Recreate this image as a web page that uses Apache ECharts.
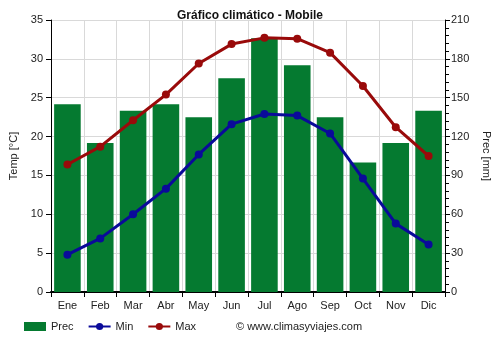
<!DOCTYPE html>
<html>
<head>
<meta charset="utf-8">
<style>
  html, body { margin: 0; padding: 0; background: #fff; }
  #chart { width: 500px; height: 350px; }
</style>
<script src="https://cdn.jsdelivr.net/npm/echarts@6/dist/echarts.min.js"></script>
</head>
<body>
<div id="chart"></div>
<script>
// Monthly climate data for Mobile
const months = ['Ene', 'Feb', 'Mar', 'Abr', 'May', 'Jun', 'Jul', 'Ago', 'Sep', 'Oct', 'Nov', 'Dic'];
const precMm = [145, 115, 140, 145, 135, 165, 196, 175, 135, 100, 115, 140];
const tempMin = [4.8, 6.9, 10.0, 13.3, 17.7, 21.6, 22.9, 22.7, 20.4, 14.6, 8.8, 6.1];
const tempMax = [16.4, 18.7, 22.1, 25.4, 29.4, 31.9, 32.7, 32.6, 30.8, 26.5, 21.2, 17.5];

const FONT = 'Liberation Sans, Arial, sans-serif';
const chart = echarts.init(document.getElementById('chart'), null, { renderer: 'canvas' });

chart.setOption({
  animation: false,
  backgroundColor: '#ffffff',
  textStyle: { fontFamily: FONT },
  title: {
    text: 'Gráfico climático - Mobile',
    left: 'center',
    top: 10,
    padding: 0,
    textStyle: { fontFamily: FONT, fontSize: 12, fontWeight: 'bold', color: '#111' }
  },
  grid: { left: 49, right: 55, top: 20, bottom: 58, containLabel: false },
  legend: {
    left: 24,
    top: 321,
    padding: 0,
    itemGap: 14,
    itemWidth: 22,
    itemHeight: 9,
    textStyle: { fontFamily: FONT, fontSize: 11, color: '#222' },
    data: [
      { name: 'Prec', icon: 'rect' },
      { name: 'Min' },
      { name: 'Max' }
    ]
  },
  graphic: [{
    type: 'text',
    left: 236,
    top: 321,
    style: { text: '© www.climasyviajes.com', font: '11px ' + FONT, fill: '#222' }
  }],
  xAxis: {
    type: 'category',
    data: months,
    boundaryGap: true,
    axisLine: { lineStyle: { color: '#000', width: 2 } },
    axisTick: { show: true, alignWithLabel: false, length: 5, lineStyle: { color: '#000' } },
    axisLabel: { fontSize: 11, color: '#222', margin: 8, fontFamily: FONT },
    splitLine: { show: true, lineStyle: { color: '#d9d9d9', width: 1 } }
  },
  yAxis: [{
    type: 'value',
    min: 0, max: 35, interval: 5,
    name: 'Temp [°C]',
    nameLocation: 'middle',
    nameGap: 32,
    nameRotate: 90,
    nameTextStyle: { fontSize: 11, color: '#222', fontFamily: FONT },
    axisLine: { show: true, lineStyle: { color: '#000' } },
    axisTick: { show: true, length: 5, lineStyle: { color: '#000' } },
    axisLabel: { fontSize: 11, color: '#222', margin: 8, fontFamily: FONT },
    splitLine: { show: true, lineStyle: { color: '#d9d9d9', width: 1 } }
  }, {
    type: 'value',
    min: 0, max: 210, interval: 30,
    name: 'Prec [mm]',
    nameLocation: 'middle',
    nameGap: 36,
    nameRotate: -90,
    nameTextStyle: { fontSize: 11, color: '#222', fontFamily: FONT },
    axisLine: { show: true, lineStyle: { color: '#000' } },
    axisTick: { show: true, length: 5, lineStyle: { color: '#000' } },
    minorTick: { show: true, splitNumber: 5, length: 4, lineStyle: { color: '#000' } },
    axisLabel: { fontSize: 11, color: '#222', margin: 6, fontFamily: FONT },
    splitLine: { show: false }
  }],
  series: [{
    name: 'Prec',
    type: 'bar',
    yAxisIndex: 1,
    data: precMm,
    barCategoryGap: '19%',
    itemStyle: { color: '#057a30' },
    z: 2
  }, {
    name: 'Min',
    type: 'line',
    yAxisIndex: 0,
    data: tempMin,
    symbol: 'circle',
    symbolSize: 8,
    lineStyle: { color: '#0a0a9a', width: 3 },
    itemStyle: { color: '#0a0a9a' },
    z: 3
  }, {
    name: 'Max',
    type: 'line',
    yAxisIndex: 0,
    data: tempMax,
    symbol: 'circle',
    symbolSize: 8,
    lineStyle: { color: '#990a0a', width: 3 },
    itemStyle: { color: '#990a0a' },
    z: 4
  }]
});
</script>
</body>
</html>
